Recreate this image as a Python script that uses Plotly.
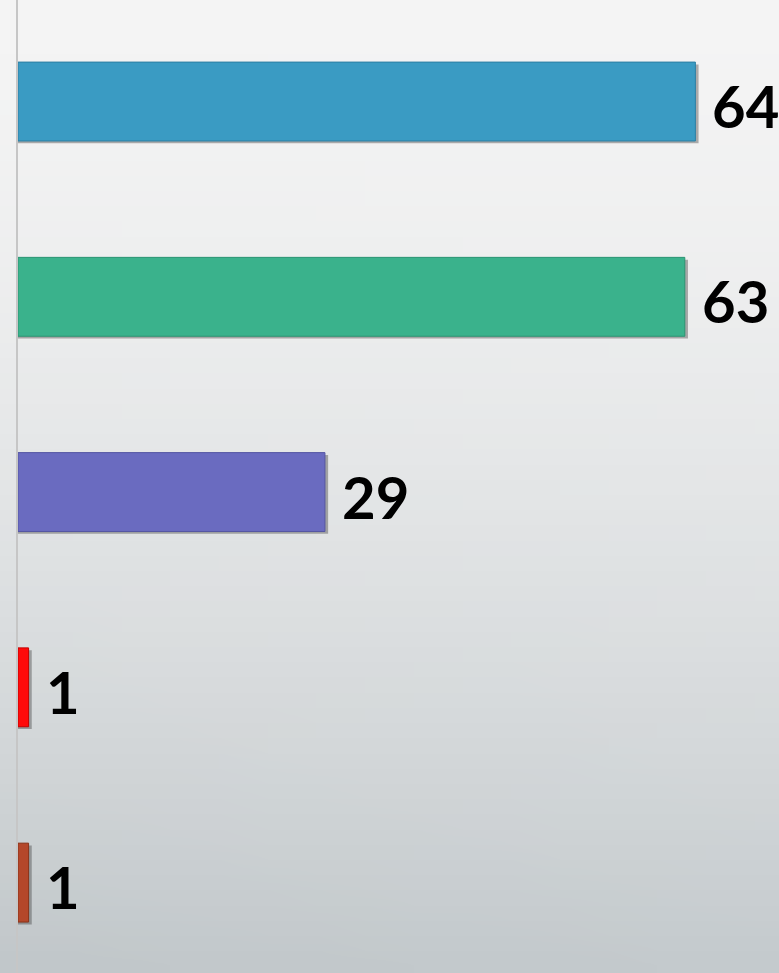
import base64
import struct
import zlib

import plotly.graph_objects as go

# ---- data ----
categories = ["A", "B", "C", "D", "E"]
values = [64, 63, 29, 1, 1]
labels = ["64", "63", "29", "1", "1"]
bar_colors = ["#3a9bc3", "#3ab28c", "#6a6bc0", "#ff0a0a", "#b4472a"]
line_colors = ["#2c7fa3", "#2a9472", "#5556a3", "#c40000", "#8a3218"]


# ---- background gradient as a small PNG ----
def make_png(w, h, pixel):
    raw = b""
    for y in range(h):
        raw += b"\x00"
        for x in range(w):
            raw += bytes(pixel(x, y))

    def chunk(tag, data):
        c = struct.pack(">I", len(data)) + tag + data
        return c + struct.pack(">I", zlib.crc32(tag + data) & 0xFFFFFFFF)

    png = b"\x89PNG\r\n\x1a\n"
    png += chunk(b"IHDR", struct.pack(">IIBBBBB", w, h, 8, 2, 0, 0, 0))
    png += chunk(b"IDAT", zlib.compress(raw, 9))
    png += chunk(b"IEND", b"")
    return png


def grad(x, y, W=16, H=64):
    t = y / (H - 1)
    s = x / (W - 1)
    k = t ** 1.6
    top = (244, 244, 244)
    bot = (196, 202, 205)
    dk = (1 - s) * 3 * k
    return tuple(int(round(top[i] + (bot[i] - top[i]) * k - dk)) for i in range(3))


png = make_png(16, 64, grad)
bg_src = "data:image/png;base64," + base64.b64encode(png).decode()

fig = go.Figure()

# soft drop shadow under the bars
fig.add_trace(go.Bar(
    y=categories, x=[v + 0.3 for v in values], orientation="h",
    width=0.404, offset=-0.19,
    marker=dict(color="rgba(60,60,60,0.4)", line=dict(width=0)),
    hoverinfo="skip", showlegend=False,
))

fig.add_trace(go.Bar(
    y=categories, x=values, orientation="h",
    width=0.404,
    marker=dict(color=bar_colors, line=dict(color=line_colors, width=1)),
    showlegend=False,
))

for c, v, t in zip(categories, values, labels):
    fig.add_annotation(
        x=v, y=c, text=f"<b>{t}</b>", showarrow=False,
        xanchor="left", yanchor="middle", xshift=15, yshift=-4,
        font=dict(family="Lato", size=58, color="#000000"),
    )

fig.update_layout(
    width=779, height=973,
    margin=dict(l=18, r=0, t=0, b=0),
    paper_bgcolor="#ebebeb",
    plot_bgcolor="rgba(0,0,0,0)",
    barmode="overlay",
    images=[dict(
        source=bg_src, xref="paper", yref="paper",
        x=-18 / 761, y=1, sizex=1 + 18 / 761, sizey=1,
        xanchor="left", yanchor="top", sizing="stretch", layer="below",
    )],
    xaxis=dict(range=[0, 71.9], visible=False, fixedrange=True),
    yaxis=dict(
        type="category", range=[4.463, -0.52],
        showticklabels=False, showgrid=False, zeroline=False, ticks="",
        showline=True, linecolor="#c6c6c6", linewidth=1.5,
    ),
    showlegend=False,
)

fig.write_html(
    "out.html",
    config={"displayModeBar": False},
    post_script="document.body.style.margin='0';document.body.style.overflow='hidden';",
)
